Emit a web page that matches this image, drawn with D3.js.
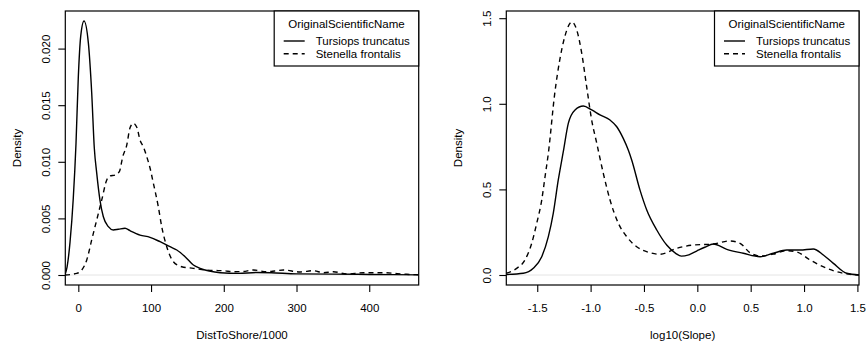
<!DOCTYPE html>
<html>
<head>
<meta charset="utf-8">
<script src="https://cdn.jsdelivr.net/npm/d3@7"></script>
<style>
  html, body { margin: 0; padding: 0; background: #fff; }
  svg { display: block; }
  text { font-family: "Liberation Sans", Arial, sans-serif; font-size: 11.5px; fill: #000; }
</style>
</head>
<body>
<svg id="chart" width="867" height="344"></svg>
<script>
// Species drawn in both panels, with their line styles in the legend order
const speciesNames = ["Tursiops truncatus", "Stenella frontalis"];
const legendTitle = "OriginalScientificName";

// Kernel density of DistToShore/1000 (km)
const distTursiopsX = [-18.3, -15.5, -11.4, -6.9, -3.2, 0, 3.3, 7.8, 13.8, 18.4, 22, 25.3, 29.8, 34.4, 41.3, 48.1, 55, 64.2, 71.1, 84.9, 98.6, 112.4, 126.1, 135.4, 146.8, 158.2, 167.4, 180, 195, 220, 245, 265, 300, 350, 400, 468];
const distTursiopsY = [0.00003, 0.0007, 0.0029, 0.0068, 0.0116, 0.0175, 0.0211, 0.02244, 0.0205, 0.0161, 0.0112, 0.0090, 0.0066, 0.00515, 0.00427, 0.00398, 0.00404, 0.00413, 0.00391, 0.00353, 0.00333, 0.00294, 0.0025, 0.00221, 0.00162, 0.00088, 0.00059, 0.00035, 0.0002, 0.00014, 0.00022, 0.0002, 0.0001, 0.00008, 0.00005, 0.00001];
const distStenellaX = [-18.3, -2.2, 4.7, 11.6, 18.4, 25.3, 32.2, 39.1, 43.6, 50.5, 56.4, 61.1, 66.6, 71.1, 75.7, 80.7, 84.9, 89.4, 94.1, 98.6, 103.2, 110, 114.7, 121.6, 130.7, 142.2, 158.2, 167.4, 185, 199.4, 213.2, 225, 240.7, 259.1, 270, 282, 305, 323.2, 337, 350.8, 369.2, 392, 419.5, 451.7, 468];
const distStenellaY = [0, 0.00015, 0.00044, 0.00133, 0.0031, 0.00486, 0.00663, 0.0084, 0.00875, 0.00883, 0.00913, 0.01045, 0.01148, 0.013, 0.0134, 0.013, 0.0119, 0.01133, 0.01045, 0.00945, 0.0081, 0.00603, 0.00427, 0.0025, 0.00117, 0.00073, 0.00059, 0.0005, 0.0004, 0.00038, 0.00029, 0.0003, 0.00044, 0.00029, 0.00035, 0.00044, 0.00027, 0.00038, 0.0002, 0.00029, 0.00009, 0.0002, 0.0002, 0.00006, 0.00002];

// Kernel density of log10(Slope)
const slopeTursiopsX = [-1.79, -1.631, -1.537, -1.458, -1.396, -1.350, -1.303, -1.256, -1.209, -1.146, -1.068, -0.990, -0.912, -0.818, -0.755, -0.694, -0.647, -0.615, -0.537, -0.474, -0.380, -0.287, -0.20, -0.15, -0.08, -0.006, 0.07, 0.150, 0.276, 0.431, 0.588, 0.712, 0.838, 0.962, 1.087, 1.181, 1.275, 1.400, 1.515];
const slopeTursiopsY = [0.003, 0.010, 0.039, 0.107, 0.224, 0.360, 0.555, 0.720, 0.886, 0.964, 0.987, 0.964, 0.935, 0.905, 0.866, 0.798, 0.730, 0.672, 0.496, 0.380, 0.263, 0.175, 0.125, 0.110, 0.118, 0.140, 0.162, 0.181, 0.150, 0.127, 0.107, 0.127, 0.146, 0.146, 0.152, 0.117, 0.068, 0.010, 0.0];
const slopeStenellaX = [-1.79, -1.693, -1.615, -1.552, -1.505, -1.458, -1.427, -1.396, -1.336, -1.289, -1.242, -1.175, -1.130, -1.083, -1.037, -0.990, -0.943, -0.881, -0.818, -0.740, -0.662, -0.568, -0.443, -0.350, -0.193, -0.037, 0.150, 0.306, 0.400, 0.494, 0.588, 0.712, 0.838, 0.932, 1.056, 1.213, 1.368, 1.515];
const slopeStenellaY = [0.010, 0.039, 0.088, 0.185, 0.302, 0.438, 0.574, 0.711, 1.061, 1.256, 1.392, 1.478, 1.431, 1.295, 1.100, 0.905, 0.771, 0.594, 0.438, 0.302, 0.224, 0.165, 0.130, 0.121, 0.156, 0.175, 0.181, 0.199, 0.185, 0.130, 0.111, 0.122, 0.142, 0.135, 0.088, 0.039, 0.010, 0.0];

// Axis ticks and labels
const distXTicks = [0, 100, 200, 300, 400];
const distXLabels = ["0", "100", "200", "300", "400"];
const distYTicks = [0, 0.005, 0.010, 0.015, 0.020];
const distYLabels = ["0.000", "0.005", "0.010", "0.015", "0.020"];
const slopeXTicks = [-1.5, -1.0, -0.5, 0.0, 0.5, 1.0, 1.5];
const slopeXLabels = ["-1.5", "-1.0", "-0.5", "0.0", "0.5", "1.0", "1.5"];
const slopeYTicks = [0, 0.5, 1.0, 1.5];
const slopeYLabels = ["0.0", "0.5", "1.0", "1.5"];

const svg = d3.select("#chart");
svg.append("rect").attr("width", 867).attr("height", 344).attr("fill", "#fff");

const dashStyles = [null, "5,4"];

function zip(xs, ys) { return xs.map((x, i) => [x, ys[i]]); }

function panel(cfg) {
  const x = d3.scaleLinear().domain(cfg.xDomain).range([cfg.left, cfg.right]);
  const y = d3.scaleLinear().domain(cfg.yDomain).range([cfg.bottom, cfg.top]);
  const g = svg.append("g");
  const clipId = "clip-" + cfg.id;
  g.append("clipPath").attr("id", clipId)
    .append("rect").attr("x", cfg.left).attr("y", cfg.top)
    .attr("width", cfg.right - cfg.left).attr("height", cfg.bottom - cfg.top);

  // zero reference line
  g.append("line")
    .attr("x1", cfg.left).attr("x2", cfg.right)
    .attr("y1", y(0)).attr("y2", y(0))
    .attr("stroke", "#e4e4e4").attr("stroke-width", 1);

  const line = d3.line().x(d => x(d[0])).y(d => y(d[1])).curve(d3.curveMonotoneX);
  cfg.series.forEach((s, i) => {
    g.append("path")
      .datum(s)
      .attr("clip-path", `url(#${clipId})`)
      .attr("fill", "none")
      .attr("stroke", "#000")
      .attr("stroke-width", 1.4)
      .attr("stroke-dasharray", dashStyles[i])
      .attr("d", line);
  });

  // frame
  g.append("rect")
    .attr("x", cfg.left).attr("y", cfg.top)
    .attr("width", cfg.right - cfg.left).attr("height", cfg.bottom - cfg.top)
    .attr("fill", "none").attr("stroke", "#000").attr("stroke-width", 1.2);

  // x axis
  const xa = g.append("g").attr("transform", `translate(0,${cfg.bottom})`)
    .call(d3.axisBottom(x).tickValues(cfg.xTicks)
      .tickFormat((d, i) => cfg.xLabels[i]).tickSize(7).tickPadding(11.8));
  xa.select(".domain").remove();
  xa.selectAll("line").attr("stroke", "#000").attr("stroke-width", 1.1);
  xa.selectAll("text").attr("font-size", null).attr("font-family", null);
  xa.attr("font-size", null).attr("font-family", null);

  // y axis with labels turned parallel to the axis
  const ya = g.append("g").attr("transform", `translate(${cfg.left},0)`)
    .call(d3.axisLeft(y).tickValues(cfg.yTicks)
      .tickFormat((d, i) => cfg.yLabels[i]).tickSize(7));
  ya.select(".domain").remove();
  ya.selectAll("line").attr("stroke", "#000").attr("stroke-width", 1.1);
  ya.selectAll("text")
    .attr("x", null).attr("dy", null)
    .attr("text-anchor", "middle")
    .attr("transform", "translate(-15.5,0) rotate(-90)");
  ya.attr("font-size", null).attr("font-family", null);

  // axis titles
  g.append("text")
    .attr("x", (cfg.left + cfg.right) / 2).attr("y", 338.5)
    .attr("text-anchor", "middle").text(cfg.xTitle);
  g.append("text")
    .attr("transform", `translate(${cfg.left - 44},${(cfg.top + cfg.bottom) / 2}) rotate(-90)`)
    .attr("text-anchor", "middle").text("Density");

  // legend in the top-right corner
  const lw = 144.5, lh = 55;
  const lx = cfg.right - lw, ly = cfg.top;
  const lg = g.append("g");
  lg.append("rect").attr("x", lx).attr("y", ly).attr("width", lw).attr("height", lh)
    .attr("fill", "#fff").attr("stroke", "#000").attr("stroke-width", 1.2);
  lg.append("text").attr("x", lx + lw / 2).attr("y", ly + 16.5)
    .attr("text-anchor", "middle").text(legendTitle);
  speciesNames.forEach((name, i) => {
    const yy = ly + 30 + i * 12.8;
    lg.append("line").attr("x1", lx + 9.5).attr("x2", lx + 30.5)
      .attr("y1", yy).attr("y2", yy)
      .attr("stroke", "#000").attr("stroke-width", 1.4)
      .attr("stroke-dasharray", dashStyles[i]);
    lg.append("text").attr("x", lx + 41.5).attr("y", yy + 4).text(name);
  });
}

panel({
  id: "dist", left: 65.3, right: 418.7, top: 11, bottom: 285,
  xDomain: [-17.9, 468], yDomain: [-0.000883, 0.02332],
  series: [zip(distTursiopsX, distTursiopsY), zip(distStenellaX, distStenellaY)],
  xTicks: distXTicks, xLabels: distXLabels, yTicks: distYTicks, yLabels: distYLabels,
  xTitle: "DistToShore/1000"
});

panel({
  id: "slope", left: 506.3, right: 859, top: 11, bottom: 285,
  xDomain: [-1.79, 1.515], yDomain: [-0.0584, 1.542],
  series: [zip(slopeTursiopsX, slopeTursiopsY), zip(slopeStenellaX, slopeStenellaY)],
  xTicks: slopeXTicks, xLabels: slopeXLabels, yTicks: slopeYTicks, yLabels: slopeYLabels,
  xTitle: "log10(Slope)"
});
</script>
</body>
</html>
